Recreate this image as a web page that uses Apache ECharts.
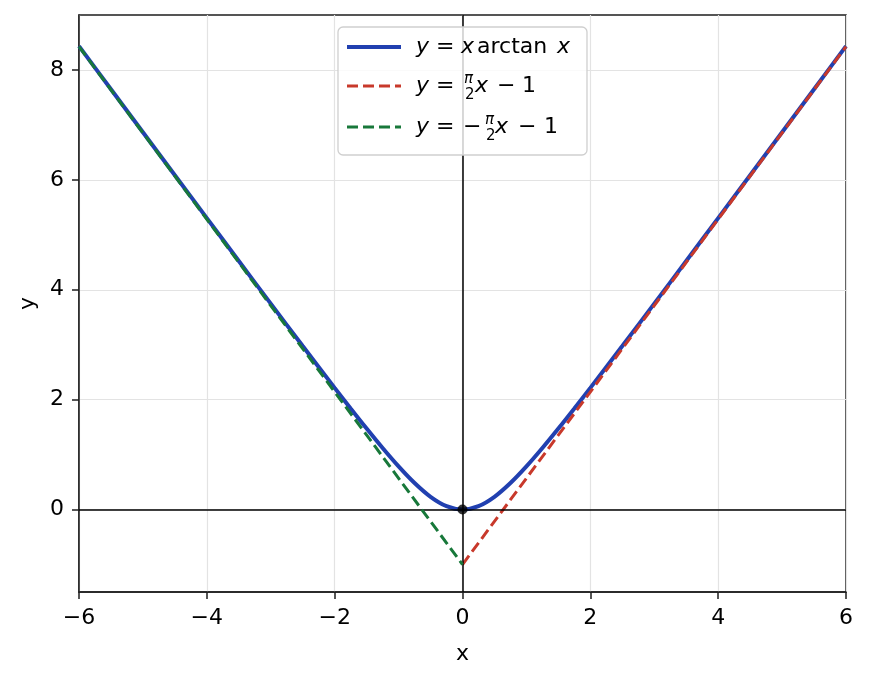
<!DOCTYPE html>
<html><head><meta charset="utf-8">
<script src="https://cdn.jsdelivr.net/npm/echarts@6/dist/echarts.min.js"></script>
<style>html,body{margin:0;padding:0;background:#fff}#c{width:869px;height:680px}</style>
</head><body><div id="c"></div>
<script>
// ---- data ----
const curveX = [-6,-5.5,-5,-4.5,-4,-3.5,-3,-2.5,-2,-1.75,-1.5,-1.25,-1,-0.75,-0.5,-0.25,0,0.25,0.5,0.75,1,1.25,1.5,1.75,2,2.5,3,3.5,4,4.5,5,5.5,6];
const curveY = [8.4335,7.65,6.867,6.0846,5.3033,4.5237,3.7471,2.9758,2.2143,1.8405,1.4742,1.1202,0.7854,0.4826,0.2318,0.0612,0,0.0612,0.2318,0.4826,0.7854,1.1202,1.4742,1.8405,2.2143,2.9758,3.7471,4.5237,5.3033,6.0846,6.867,7.65,8.4335];
const rightAsymX = [0, 6];
const rightAsymY = [-1, 8.4248];
const leftAsymX = [-6, 0];
const leftAsymY = [8.4248, -1];
const originX = [0];
const originY = [0];
const xTicks = [-6,-4,-2,0,2,4,6];
const yTicks = [0,2,4,6,8];
const seriesNames = ['y = x arctan x', 'y = π/2 x − 1', 'y = −π/2 x − 1'];

// ---- styles ----
const FONT = 'DejaVu Sans';
const BLUE = '#2140b0', RED = '#c8392b', GREEN = '#18783a', INK = '#1e1e1e';
const pairs = (xs, ys) => xs.map((x, i) => [x, ys[i]]);
const fmtTick = v => (v < 0 ? '\u2212' + Math.abs(v) : String(v));

const chart = echarts.init(document.getElementById('c'), null, {renderer: 'canvas'});

function txt(s, x, y, size, italic) {
  return {type: 'text', x: x, y: y, z: 102,
    style: {text: s, fontFamily: FONT, fontSize: size, fontStyle: italic ? 'italic' : 'normal',
      fill: '#000', verticalAlign: 'middle', align: 'left'}};
}
const L = 22, S = 15;
const legendGraphic = [
  {type: 'rect', z: 100, shape: {x: 338, y: 27, width: 249, height: 128, r: 5},
   style: {fill: 'rgba(255,255,255,0.8)', stroke: '#cfcfcf', lineWidth: 1.3}},
  {type: 'line', z: 101, shape: {x1: 347, y1: 47, x2: 401, y2: 47}, style: {stroke: BLUE, lineWidth: 4}},
  {type: 'line', z: 101, shape: {x1: 347, y1: 86, x2: 401, y2: 86}, style: {stroke: RED, lineWidth: 3, lineDash: [11, 5]}},
  {type: 'line', z: 101, shape: {x1: 347, y1: 127, x2: 401, y2: 127}, style: {stroke: GREEN, lineWidth: 3, lineDash: [11, 5]}},
  // row 1
  txt('y', 416, 47, L, true), txt('=', 436, 47, L, false), txt('x', 461, 47, L, true),
  txt('arctan', 477, 47, L, false), txt('x', 557, 47, L, true),
  // row 2
  txt('y', 416, 86, L, true), txt('=', 436, 86, L, false),
  txt('π', 464, 79, S, true), txt('2', 465, 95, S, false),
  txt('x', 475, 86, L, true), txt('\u2212', 497, 86, L, false), txt('1', 522, 86, L, false),
  // row 3
  txt('y', 416, 127, L, true), txt('=', 436, 127, L, false), txt('\u2212', 463, 127, L, false),
  txt('π', 485, 120, S, true), txt('2', 486, 136, S, false),
  txt('x', 495, 127, L, true), txt('\u2212', 518, 127, L, false), txt('1', 544, 127, L, false)
];

const option = {
  backgroundColor: '#fff',
  animation: false,
  grid: {left: 79, right: 23, top: 15, bottom: 88, show: true, borderColor: INK, borderWidth: 1.5, backgroundColor: 'transparent'},
  xAxis: {
    type: 'value', min: -6, max: 6, interval: 2,
    name: 'x', nameLocation: 'middle', nameGap: 51,
    nameTextStyle: {fontFamily: FONT, fontSize: L, color: '#000'},
    axisLine: {show: true, onZero: false, lineStyle: {color: INK, width: 1.5}},
    axisTick: {show: true, inside: false, length: 7, lineStyle: {color: INK, width: 1.5}},
    axisLabel: {margin: 15, fontFamily: FONT, fontSize: L, color: '#000', formatter: fmtTick},
    splitLine: {show: true, lineStyle: {color: '#e3e3e3', width: 1.2}}
  },
  yAxis: {
    type: 'value', min: -1.5, max: 9,
    name: 'y', nameLocation: 'middle', nameGap: 40, nameRotate: 90,
    nameTextStyle: {fontFamily: FONT, fontSize: L, color: '#000'},
    axisLine: {show: true, onZero: false, lineStyle: {color: INK, width: 1.5}},
    axisTick: {show: true, inside: false, length: 7, customValues: yTicks, lineStyle: {color: INK, width: 1.5}},
    axisLabel: {margin: 15, fontFamily: FONT, fontSize: L, color: '#000', customValues: yTicks, formatter: fmtTick},
    splitLine: {show: true, lineStyle: {color: '#e3e3e3', width: 1.2}}
  },
  graphic: legendGraphic,
  series: [
    {
      name: 'zero lines', type: 'line', data: [], z: 1, silent: true,
      markLine: {silent: true, symbol: ['none', 'none'], label: {show: false}, animation: false,
        lineStyle: {color: '#000', width: 1.5, type: 'solid'},
        data: [{xAxis: 0}, {yAxis: 0}]}
    },
    {
      name: seriesNames[0], type: 'line', data: pairs(curveX, curveY), smooth: 0.35,
      showSymbol: false, z: 3, lineStyle: {color: BLUE, width: 4}, itemStyle: {color: BLUE}
    },
    {
      name: seriesNames[1], type: 'line', data: pairs(rightAsymX, rightAsymY),
      showSymbol: false, z: 4, lineStyle: {color: RED, width: 3, type: [11, 5]}, itemStyle: {color: RED}
    },
    {
      name: seriesNames[2], type: 'line', data: pairs(leftAsymX, leftAsymY),
      showSymbol: false, z: 5, lineStyle: {color: GREEN, width: 3, type: [11, 5]}, itemStyle: {color: GREEN}
    },
    {
      name: 'origin', type: 'scatter', data: pairs(originX, originY), z: 6,
      symbolSize: 10, itemStyle: {color: '#000'}
    }
  ]
};
chart.setOption(option);
</script></body></html>
